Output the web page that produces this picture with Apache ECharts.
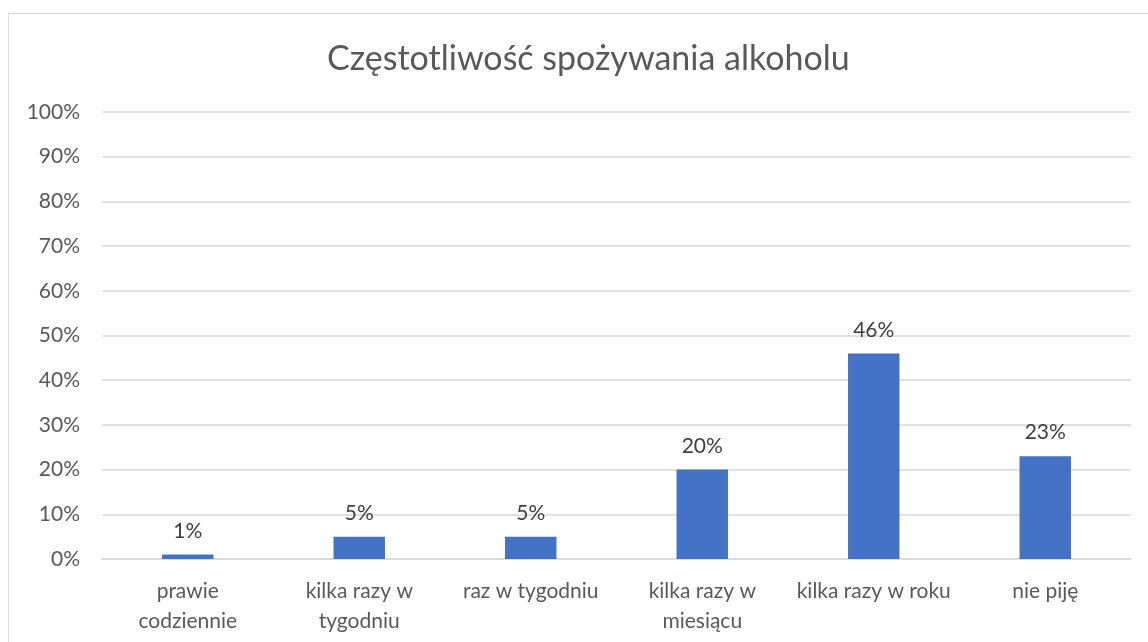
<!DOCTYPE html>
<html>
<head>
<meta charset="utf-8">
<script src="https://cdn.jsdelivr.net/npm/echarts@6/dist/echarts.min.js"></script>
<style>
  html, body { margin: 0; padding: 0; background: #fff; }
  #frame { position: absolute; left: 8px; top: 13px; width: 1160px; height: 660px; border: 1px solid #d9d9d9; box-sizing: border-box; }
  #chart { position: absolute; left: 0; top: 0; width: 1148px; height: 642px; }
</style>
</head>
<body>
<div id="frame"></div>
<div id="chart"></div>
<script>
// kategorie i wartości (%)
var categories = ['prawie\ncodziennie', 'kilka razy w\ntygodniu', 'raz w tygodniu', 'kilka razy w\nmiesiącu', 'kilka razy w roku', 'nie piję'];
var values = [1, 5, 5, 20, 46, 23];

var font = 'Lato, "Open Sans", sans-serif';
var myChart = echarts.init(document.getElementById('chart'));
myChart.setOption({
  animation: false,
  textStyle: { fontFamily: font },
  title: {
    text: 'Częstotliwość spożywania alkoholu',
    left: 322,
    top: 37,
    textStyle: { fontSize: 34, fontWeight: 'normal', color: '#595959', fontFamily: font }
  },
  grid: { left: 102, right: 17, top: 112, bottom: 83, containLabel: false },
  xAxis: {
    type: 'category',
    data: categories,
    axisLine: { lineStyle: { color: '#d9d9d9', width: 1.5 } },
    axisTick: { show: false },
    axisLabel: { color: '#595959', fontSize: 21, lineHeight: 30, margin: 17, interval: 0 }
  },
  yAxis: {
    type: 'value',
    min: 0,
    max: 100,
    interval: 10,
    axisLine: { show: false },
    axisTick: { show: false },
    splitLine: { lineStyle: { color: '#d9d9d9', width: 1.5 } },
    axisLabel: { color: '#595959', fontSize: 21, margin: 22, formatter: '{value}%' }
  },
  series: [{
    type: 'bar',
    data: values,
    barWidth: '30%',
    itemStyle: { color: '#4472c4' },
    label: {
      show: true,
      position: 'top',
      distance: 13,
      color: '#404040',
      fontSize: 21,
      formatter: '{c}%'
    }
  }]
});
</script>
</body>
</html>
